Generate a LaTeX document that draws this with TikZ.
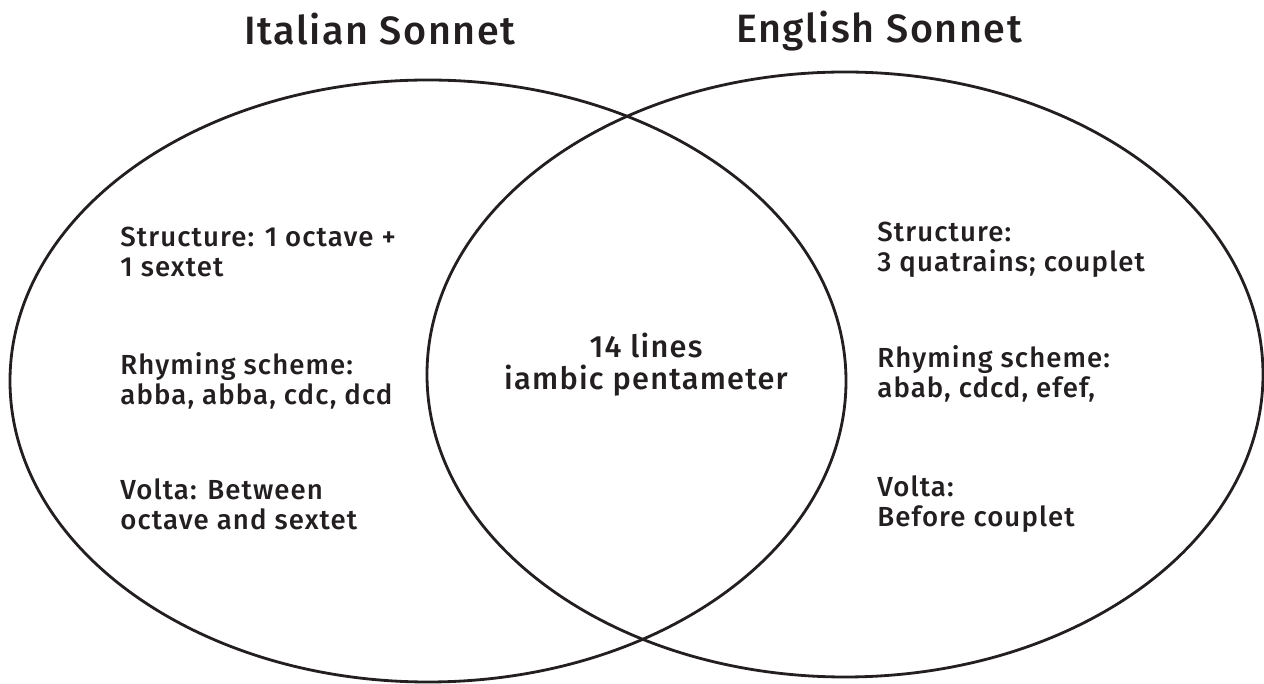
\documentclass[tikz,border=0pt]{standalone}
\usepackage{fontspec}
\setmainfont{Fira Sans}[UprightFont=* Medium,LetterSpace=4]
\usepackage{tikz}
\usetikzlibrary{positioning}
\definecolor{ink}{HTML}{231F20}

\begin{document}
\begin{tikzpicture}
	 \tikzstyle{set} = [draw=ink,line width=1.6pt]
	 \tikzstyle{title} = [inner sep=0pt,anchor=base,text=ink,font=\fontsize{22.5}{27}\selectfont]
	 \tikzstyle{facts} = [inner sep=0pt,anchor=base west,align=left,text=ink,font=\fontsize{15.7}{17.2}\selectfont]
	 \useasboundingbox (0,0) rectangle (25.28,13.68);

	 \draw[set] (8.56,6.06) ellipse [x radius=8.36, y radius=6.02];
	 \draw[set] (16.90,6.19) ellipse [x radius=8.36, y radius=6.05];

	 \node[title] (it) at (7.60,12.78) {Italian Sonnet};
	 \node[title] (en) at (17.58,12.82) {English Sonnet};

	 % base of a two-line node sits on its second line
	 \node[facts] (itstr) at (2.40,8.14) {Structure: 1 octave +\\1 sextet};
	 \node[facts] (itrhy) at (2.40,5.58) {Rhyming scheme:\\abba, abba, cdc, dcd};
	 \node[facts] (itvol) at (2.40,3.08) {Volta: Between\\octave and sextet};

	 \node[facts,anchor=base,align=center,font=\fontsize{17.5}{18.4}\selectfont] (both) at (12.92,5.88) {14 lines\\iambic pentameter};

	 \node[facts] (enstr) at (17.54,8.24) {Structure:\\3 quatrains; couplet};
	 \node[facts] (enrhy) at (17.54,5.72) {Rhyming scheme:\\abab, cdcd, efef,};
	 \node[facts] (envol) at (17.54,3.14) {Volta:\\Before couplet};
 \end{tikzpicture}
\end{document}
